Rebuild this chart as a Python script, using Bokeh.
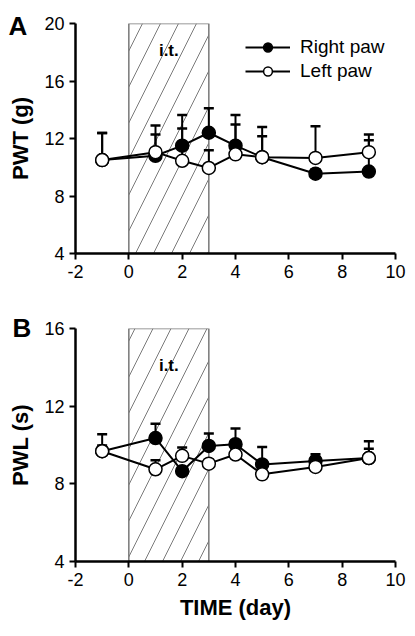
from bokeh.plotting import figure
from bokeh.models import Range1d, FixedTicker, Label, Legend, LegendItem, ColumnDataSource
from bokeh.layouts import column
from bokeh.embed import file_html
from bokeh.resources import INLINE

# ---------------- data ----------------
days = [-1, 1, 2, 3, 4, 5, 7, 9]

pwt_right = [10.5, 10.8, 11.5, 12.4, 11.5, 10.7, 9.55, 9.7]
pwt_right_err = [1.88, 2.1, 2.13, 1.7, 2.13, 2.1, 0.3, 2.57]
pwt_left = [10.5, 11.05, 10.45, 9.95, 10.9, 10.7, 10.65, 11.05]
pwt_left_err = [1.88, 1.22, 2.25, 1.23, 2.08, 1.45, 2.2, 0.83]

pwl_right = [9.68, 10.36, 8.65, 9.95, 10.04, 9.0, 9.18, 9.33]
pwl_right_err = [0.87, 0.74, 0.2, 0.64, 0.81, 0.9, 0.35, 0.86]
pwl_left = [9.68, 8.75, 9.44, 9.04, 9.51, 8.49, 8.87, 9.33]
pwl_left_err = [0.3, 0.46, 0.43, 0.2, 0.3, 0.2, 0.2, 0.48]

treatment = [0, 3]          # i.t. window (days)
x_ticks = [-2, 0, 2, 4, 6, 8, 10]
pwt_ticks = [4, 8, 12, 16, 20]
pwl_ticks = [4, 8, 12, 16]

FONT = "Liberation Sans"


def make_panel(width, height, borders, yticks, right, right_err, left, left_err,
               ylabel, xlabel, letter, letter_pos, it_off, legend_pos=None):
    bl, br, bt, bb = borders
    p = figure(width=width, height=height, output_backend="svg", toolbar_location=None,
               x_range=Range1d(x_ticks[0], x_ticks[-1]),
               y_range=Range1d(yticks[0], yticks[-1]),
               min_border_left=bl, min_border_right=br, min_border_top=bt, min_border_bottom=bb)
    p.grid.visible = False
    p.outline_line_color = None
    p.background_fill_color = "white"
    p.border_fill_color = "white"

    for ax in (p.xaxis[0], p.yaxis[0]):
        ax.axis_line_width = 2.5
        ax.axis_line_color = "black"
        ax.major_tick_line_width = 2
        ax.major_tick_line_color = "black"
        ax.major_tick_out = 6
        ax.major_tick_in = 0
        ax.minor_tick_line_color = None
        ax.major_label_text_font = FONT
        ax.major_label_text_font_size = "18px"
        ax.major_label_text_color = "black"
        ax.major_label_standoff = 5
        ax.axis_label_text_font = FONT
        ax.axis_label_text_font_style = "bold"
        ax.axis_label_text_font_size = "22px"
        ax.axis_label_text_color = "black"
    p.xaxis.ticker = FixedTicker(ticks=x_ticks)
    p.xaxis.major_label_overrides = {t: str(t) for t in x_ticks}
    p.yaxis.ticker = FixedTicker(ticks=yticks)
    p.yaxis.axis_label = ylabel
    p.yaxis.axis_label_standoff = 8
    if xlabel:
        p.xaxis.axis_label = xlabel
        p.xaxis.axis_label_standoff = 6

    # hatched treatment window
    p.quad(left=[treatment[0]], right=[treatment[1]], bottom=[yticks[0]], top=[yticks[-1]],
           fill_color="white", line_color="#777777", line_width=1.5,
           hatch_pattern="/", hatch_color="#7a7a7a", hatch_weight=1, hatch_scale=36)

    p.add_layout(Label(x=(treatment[0] + treatment[1]) / 2, y=yticks[-1], text="i.t.",
                       text_align="center", text_baseline="top", y_offset=it_off,
                       text_font=FONT, text_font_style="bold", text_font_size="17px",
                       text_color="black"))

    # panel letter
    p.title.text = letter
    p.title.align = "left"
    p.title.offset = letter_pos[0]
    p.title.standoff = letter_pos[1]
    p.title.text_font = FONT
    p.title.text_font_style = "bold"
    p.title.text_font_size = "26px"
    p.title.text_color = "black"

    def series(vals, errs, fill):
        src = ColumnDataSource(dict(x=days, y=vals, top=[v + e for v, e in zip(vals, errs)]))
        ln = p.line("x", "y", source=src, line_color="black", line_width=2)
        p.segment(x0="x", y0="y", x1="x", y1="top", source=src, line_color="black", line_width=2)
        p.dash(x="x", y="top", source=src, size=10, line_color="black", line_width=2.5)
        mk = p.scatter("x", "y", source=src, marker="circle", size=13, fill_color=fill,
                       line_color="black", line_width=1.5)
        return ln, mk

    r_ln, r_mk = series(right, right_err, "black")
    l_ln, l_mk = series(left, left_err, "white")

    if legend_pos is not None:
        leg = Legend(items=[LegendItem(label="Right paw", renderers=[r_ln, r_mk]),
                            LegendItem(label="Left paw", renderers=[l_ln, l_mk])],
                     location=legend_pos, padding=0, margin=0, spacing=2,
                     glyph_width=45, glyph_height=22, label_height=22, label_standoff=10,
                     label_text_font=FONT, label_text_font_size="19px", label_text_color="black",
                     border_line_alpha=0, background_fill_alpha=0)
        p.add_layout(leg)
    return p


pA = make_panel(415, 290, (75, 20, 23, 37), pwt_ticks, pwt_right, pwt_right_err,
                pwt_left, pwt_left_err, "PWT (g)", None, "A", (-67, -35), -17,
                legend_pos=(170, 171))
pB = make_panel(415, 346, (73, 18, 38, 75), pwl_ticks, pwl_right, pwl_right_err,
                pwl_left, pwl_left_err, "PWL (s)", "TIME (day)", "B", (-63, -29), -27)

layout = column(pA, pB, spacing=0)
open("out.html", "w").write(file_html(layout, INLINE))
